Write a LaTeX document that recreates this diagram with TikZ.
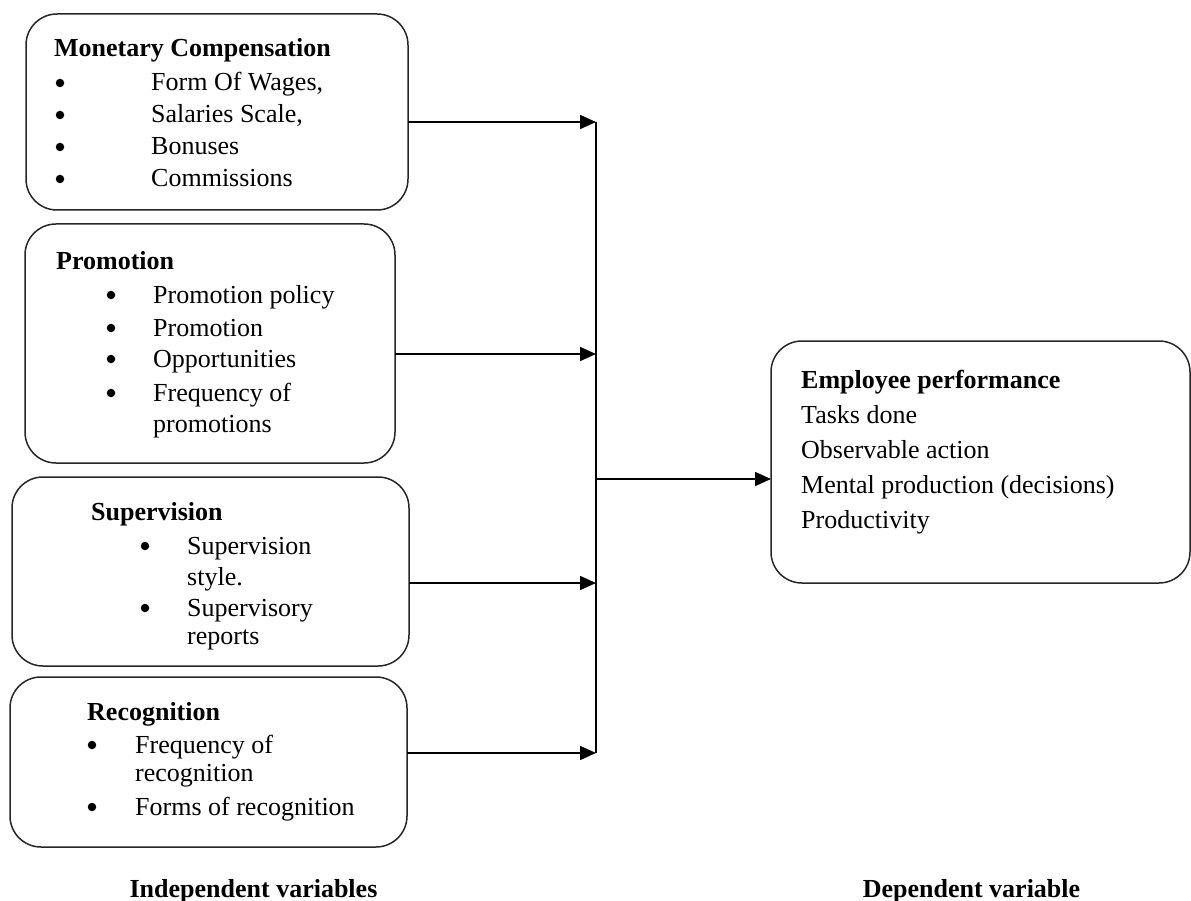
\documentclass[tikz,border=0pt]{standalone}
\usepackage{fontspec}
\setmainfont{Liberation Serif}
\usetikzlibrary{arrows.meta}
\begin{document}
\begin{tikzpicture}[x=1pt,y=-1pt,
  box/.style={draw=black!85,line width=1.5pt,rounded corners=31pt,inner sep=0pt,outer sep=0pt},
  txt/.style={anchor=base west,inner sep=0pt,font=\fontsize{26}{30}\selectfont},
  hd/.style={txt,font=\fontsize{26}{30}\selectfont\bfseries},
  bul/.style={circle,fill=black,inner sep=0pt,minimum size=8.5pt},
  lbl/.style={anchor=base,inner sep=0pt,font=\fontsize{26}{30}\selectfont\bfseries},
  arr/.style={line width=1.6pt,-{Triangle[length=16pt,width=14pt]}},
  ln/.style={line width=1.6pt}]
\useasboundingbox (0,0) rectangle (1191,901);

% boxes
\node[box,minimum width=382pt,minimum height=196pt] (B1) at (217,112) {};
\node[box,minimum width=370pt,minimum height=239pt] (B2) at (210,343.5) {};
\node[box,minimum width=397pt,minimum height=189pt] (B3) at (210.5,571.5) {};
\node[box,minimum width=397pt,minimum height=170pt] (B4) at (208.5,762) {};
\node[box,minimum width=419pt,minimum height=242pt] (R) at (980.5,462) {};

% box 1 text
\node[hd] (t1) at (54,57) {Monetary Compensation};
\node[bul] (b11) at (60,83) {};
\node[txt] (t11) at (151,91) {Form Of Wages,};
\node[bul] (b12) at (60,115) {};
\node[txt] (t12) at (151,123) {Salaries Scale,};
\node[bul] (b13) at (60,147) {};
\node[txt] (t13) at (151,155) {Bonuses};
\node[bul] (b14) at (60,179) {};
\node[txt] (t14) at (151,187) {Commissions};

% box 2 text
\node[hd] (t2) at (56,270) {Promotion};
\node[bul] (b21) at (111,295) {};
\node[txt] (t21) at (153,303) {Promotion policy};
\node[bul] (b22) at (111,328) {};
\node[txt] (t22) at (153,336) {Promotion};
\node[bul] (b23) at (111,359) {};
\node[txt] (t23) at (153,367) {Opportunities};
\node[bul] (b24) at (111,393) {};
\node[txt] (t24) at (153,401) {Frequency of};
\node[txt] (t25) at (153,432) {promotions};

% box 3 text
\node[hd] (t3) at (91,520) {Supervision};
\node[bul] (b31) at (145,546) {};
\node[txt] (t31) at (187,554) {Supervision};
\node[txt] (t32) at (187,585) {style.};
\node[bul] (b33) at (145,608) {};
\node[txt] (t33) at (187,616) {Supervisory};
\node[txt] (t34) at (187,644) {reports};

% box 4 text
\node[hd] (t4) at (87,720) {Recognition};
\node[bul] (b41) at (92,745) {};
\node[txt] (t41) at (135,753) {Frequency of};
\node[txt] (t42) at (135,781) {recognition};
\node[bul] (b43) at (92,807) {};
\node[txt] (t43) at (135,815) {Forms of recognition};

% right box text
\node[hd] (tr) at (801,388) {Employee performance};
\node[txt] (tr1) at (801,423) {Tasks done};
\node[txt] (tr2) at (801,458) {Observable action};
\node[txt] (tr3) at (801,493) {Mental production (decisions)};
\node[txt] (tr4) at (801,528) {Productivity};

% bottom labels
\node[lbl] (li) at (253.5,897) {Independent variables};
\node[lbl] (ld) at (971.5,897) {Dependent variable};

% connectors
\coordinate (j1) at (596,122);
\coordinate (j2) at (596,354);
\coordinate (j3) at (596,583);
\coordinate (j4) at (596,753);
\coordinate (jm) at (596,479);
\draw[ln] (j1) -- (j4);
\draw[arr] (B1.east |- j1) -- (j1);
\draw[arr] (B2.east |- j2) -- (j2);
\draw[arr] (B3.east |- j3) -- (j3);
\draw[arr] (B4.east |- j4) -- (j4);
\draw[arr] (jm) -- (R.west |- jm);
\end{tikzpicture}
\end{document}
